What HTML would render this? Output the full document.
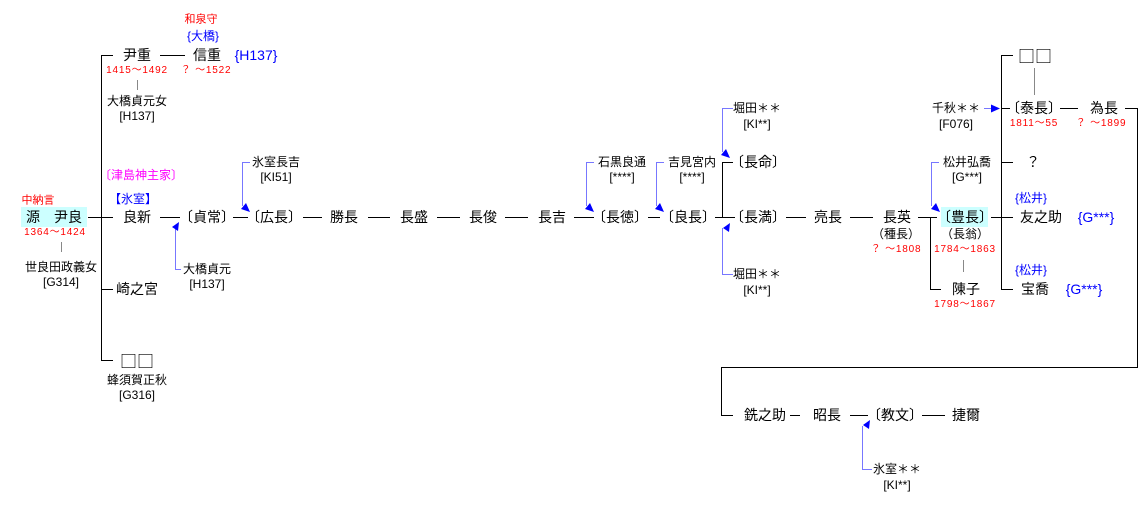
<!DOCTYPE html>
<html><head><meta charset="utf-8"><style>
body{margin:0;width:1142px;height:528px;background:#fff;position:relative;overflow:hidden;font-family:"Liberation Sans","Noto Sans CJK JP",sans-serif;}
.t{position:absolute;transform:translate(-50%,-50%);white-space:nowrap;font-size:14px;color:#000;line-height:1;}
.s{font-size:12px;}
.d{font-size:10px;color:#f00;letter-spacing:0.8px;}
.r{color:#f00;font-size:11px;}
.b{color:#00f;}
.m{color:#f0f;font-size:12px;}
.bx{font-family:"Noto Sans CJK JP",sans-serif;font-size:17px;}
.hl{position:absolute;background:#ccffff;}
svg{position:absolute;left:0;top:0;}
</style></head><body>
<div class="hl" style="left:21px;top:207px;width:66px;height:20px"></div>
<div class="hl" style="left:941px;top:207px;width:47px;height:20px"></div>
<svg width="1142" height="528">
<g stroke="#000" stroke-width="1" fill="none">
<path d="M101.5 55V360.5 M101 55.5H113 M88 217.5H113 M101 289.5H113 M101 360.5H113"/>
<path d="M160 55.5H185 M160 217.5H180 M233 217.5H248 M303 217.5H322 M368 217.5H390 M437 217.5H460 M505 217.5H528 M574 217.5H594 M648 217.5H660 M715 217.5H735 M722.5 162V217 M722 162.5H733 M786 217.5H806 M850 217.5H873 M918 217.5H937 M930.5 217V289 M930 289.5H941 M991 217.5H1013 M1001.5 55V289 M1001 55.5H1013 M1001 108.5H1010 M1001 162.5H1013 M1001 289.5H1013 M1060 108.5H1078 M1125 108.5H1137.5V367.5H721.5V415.5H733 M790 415.5H800 M850 415.5H868 M922 415.5H945"/>
</g>
<g stroke="#888" stroke-width="1"><path d="M61.5 242V252 M137.5 80V90 M963.5 260V272 M1034.5 68V95"/></g>
<g stroke="#77f" stroke-width="1" fill="none">
<path d="M250 162.5H242.5V206 M181 269.5H175.5V228 M594 162.5H586.5V206 M664 162.5H656.5V206 M733 108.5H722.5V152 M733 274.5H722.5V228 M939 162.5H931.5V206 M984 108.5H994 M872 469.5H862.5V426"/>
</g>
<g fill="#00f">
<path d="M250 212l-9-3 5-6z M179 222l-1 9-6-4z M594 212l-9-3 5-6z M664 212l-9-3 5-6z M730 158l-9-3 5-6z M730 223l-1 9-6-4z M940 212l-9-3 5-6z M1000 108.5l-9-4v8z M870 420l-1 9-6-4z"/>
</g>
</svg>
<div class="t r" style="left:38px;top:201px">中納言</div>
<div class="t" style="left:54px;top:217px">源　尹良</div>
<div class="t d" style="left:55px;top:233px">1364〜1424</div>
<div class="t s" style="left:61px;top:267px">世良田政義女</div>
<div class="t s" style="left:61px;top:282px">[G314]</div>

<div class="t r" style="left:201px;top:20px">和泉守</div>
<div class="t s b" style="left:203px;top:36px">{大橋}</div>
<div class="t" style="left:137px;top:55px">尹重</div>
<div class="t" style="left:207px;top:55px">信重</div>
<div class="t b" style="left:256px;top:55px">{H137}</div>
<div class="t d" style="left:137px;top:71px">1415〜1492</div>
<div class="t d" style="left:206px;top:71px">？ 〜1522</div>
<div class="t s" style="left:137px;top:101px">大橋貞元女</div>
<div class="t s" style="left:137px;top:116px">[H137]</div>

<div class="t m" style="left:141px;top:175px">〔津島神主家〕</div>
<div class="t s b" style="left:133px;top:199px">【氷室】</div>
<div class="t" style="left:137px;top:217px">良新</div>
<div class="t" style="left:207px;top:217px">〔貞常〕</div>
<div class="t" style="left:274px;top:217px">〔広長〕</div>
<div class="t s" style="left:276px;top:162px">氷室長吉</div>
<div class="t s" style="left:276px;top:177px">[KI51]</div>
<div class="t s" style="left:207px;top:269px">大橋貞元</div>
<div class="t s" style="left:207px;top:284px">[H137]</div>
<div class="t" style="left:137px;top:289px">崎之宮</div>
<div class="t bx" style="left:137px;top:360px">□□</div>
<div class="t s" style="left:137px;top:380px">蜂須賀正秋</div>
<div class="t s" style="left:137px;top:395px">[G316]</div>

<div class="t" style="left:344px;top:217px">勝長</div>
<div class="t" style="left:414px;top:217px">長盛</div>
<div class="t" style="left:483px;top:217px">長俊</div>
<div class="t" style="left:552px;top:217px">長吉</div>
<div class="t" style="left:620px;top:217px">〔長徳〕</div>
<div class="t s" style="left:622px;top:162px">石黒良通</div>
<div class="t s" style="left:622px;top:177px">[****]</div>
<div class="t" style="left:688px;top:217px">〔良長〕</div>
<div class="t s" style="left:692px;top:162px">吉見宮内</div>
<div class="t s" style="left:692px;top:177px">[****]</div>
<div class="t" style="left:758px;top:162px">〔長命〕</div>
<div class="t" style="left:758px;top:217px">〔長満〕</div>
<div class="t s" style="left:757px;top:108px">堀田＊＊</div>
<div class="t s" style="left:757px;top:124px">[KI**]</div>
<div class="t s" style="left:757px;top:274px">堀田＊＊</div>
<div class="t s" style="left:757px;top:290px">[KI**]</div>
<div class="t" style="left:828px;top:217px">亮長</div>
<div class="t" style="left:897px;top:217px">長英</div>
<div class="t s" style="left:896px;top:234px">（種長）</div>
<div class="t d" style="left:896px;top:250px">？ 〜1808</div>
<div class="t" style="left:965px;top:217px">〔豊長〕</div>
<div class="t s" style="left:965px;top:234px">（長翁）</div>
<div class="t d" style="left:965px;top:250px">1784〜1863</div>
<div class="t s" style="left:967px;top:162px">松井弘喬</div>
<div class="t s" style="left:967px;top:177px">[G***]</div>
<div class="t" style="left:966px;top:289px">陳子</div>
<div class="t d" style="left:965px;top:305px">1798〜1867</div>
<div class="t s" style="left:956px;top:108px">千秋＊＊</div>
<div class="t s" style="left:956px;top:124px">[F076]</div>
<div class="t bx" style="left:1035px;top:55px">□□</div>
<div class="t" style="left:1034px;top:108px">〔泰長〕</div>
<div class="t d" style="left:1034px;top:124px">1811〜55</div>
<div class="t" style="left:1104px;top:108px">為長</div>
<div class="t d" style="left:1101px;top:124px">？ 〜1899</div>
<div class="t" style="left:1033px;top:162px">？</div>
<div class="t s b" style="left:1031px;top:198px">{松井}</div>
<div class="t" style="left:1041px;top:217px">友之助</div>
<div class="t b" style="left:1096px;top:217px">{G***}</div>
<div class="t s b" style="left:1031px;top:270px">{松井}</div>
<div class="t" style="left:1035px;top:289px">宝喬</div>
<div class="t b" style="left:1084px;top:289px">{G***}</div>

<div class="t" style="left:765px;top:415px">銑之助</div>
<div class="t" style="left:827px;top:415px">昭長</div>
<div class="t" style="left:895px;top:415px">〔教文〕</div>
<div class="t" style="left:966px;top:415px">捷爾</div>
<div class="t s" style="left:897px;top:469px">氷室＊＊</div>
<div class="t s" style="left:897px;top:485px">[KI**]</div>
</body></html>
